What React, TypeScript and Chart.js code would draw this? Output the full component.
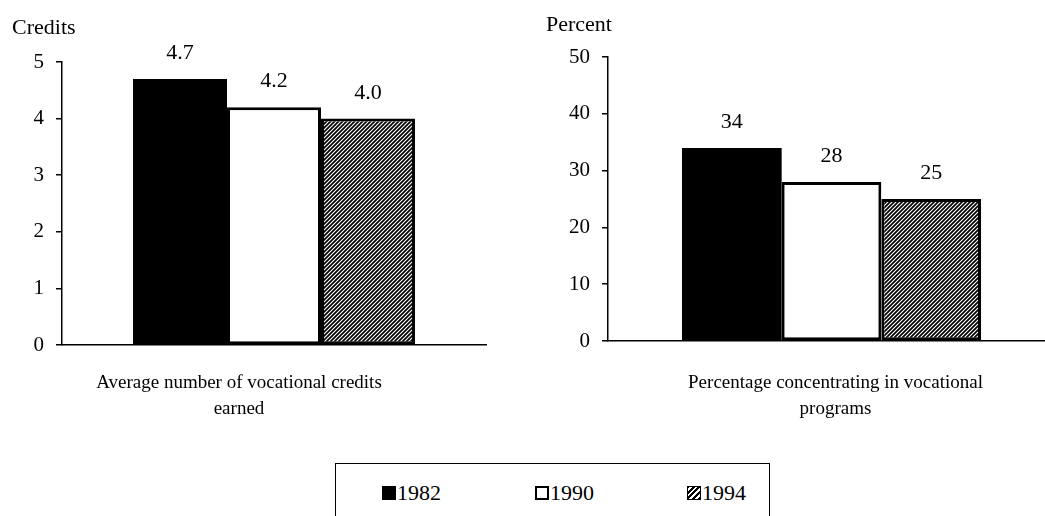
import React, { useEffect, useRef } from 'react';
import { Chart, registerables } from 'chart.js';

Chart.register(...registerables);

const FONT = "'Liberation Serif', 'Times New Roman', serif";

const years = ['1982', '1990', '1994'];
const creditsValues = [4.7, 4.2, 4.0];
const percentValues = [34, 28, 25];
const creditsAxis = { min: 0, max: 5, step: 1 };
const percentAxis = { min: 0, max: 50, step: 10 };
const creditsUnit = 'Credits';
const percentUnit = 'Percent';
const creditsCaption = ['Average number of vocational credits', 'earned'];
const percentCaption = ['Percentage concentrating in vocational', 'programs'];

function makeHatch(): CanvasPattern | string {
  const s = 4;
  const c = document.createElement('canvas');
  c.width = s;
  c.height = s;
  const g = c.getContext('2d');
  if (!g) return '#666';
  g.fillStyle = '#fff';
  g.fillRect(0, 0, s, s);
  g.strokeStyle = '#000';
  g.lineWidth = 1.7;
  g.beginPath();
  g.moveTo(0, s);
  g.lineTo(s, 0);
  g.moveTo(-1, 1);
  g.lineTo(1, -1);
  g.moveTo(s - 1, s + 1);
  g.lineTo(s + 1, s - 1);
  g.stroke();
  return g.createPattern(c, 'repeat') || '#666';
}

type Panel = {
  values: number[];
  axis: { min: number; max: number; step: number };
  decimals: number;
  unit: string;
  unitX: number;
  unitY: number;
  caption: string[];
  captionShift: number;
  captionY: number;
  padTop: number;
  padRight: number;
  yWidth: number;
  xHeight: number;
  catPct: number;
};

function buildChart(canvas: HTMLCanvasElement, p: Panel) {
  const fills = ['#000', '#fff', makeHatch()];
  const borders = [0, 3, 3];
  return new Chart(canvas, {
    type: 'bar',
    data: {
      labels: [''],
      datasets: years.map((y, i) => ({
        label: y,
        data: [p.values[i]],
        backgroundColor: fills[i] as any,
        borderColor: '#000',
        borderWidth: borders[i],
        borderSkipped: false,
        barPercentage: 1,
        categoryPercentage: p.catPct,
      })),
    },
    options: {
      responsive: false,
      animation: false,
      events: [],
      layout: {
        autoPadding: false,
        padding: { top: p.padTop, right: p.padRight, left: 0, bottom: 0 },
      },
      plugins: {
        legend: { display: false },
        title: { display: false },
        tooltip: { enabled: false },
      },
      scales: {
        x: {
          type: 'category',
          grid: { display: false },
          ticks: { display: false },
          border: { display: true, color: '#000', width: 1.5 },
          afterFit: (s: any) => {
            s.height = p.xHeight;
          },
        },
        y: {
          type: 'linear',
          min: p.axis.min,
          max: p.axis.max,
          ticks: {
            stepSize: p.axis.step,
            color: '#000',
            font: { family: FONT, size: 21 },
            padding: 12,
          },
          grid: {
            drawOnChartArea: false,
            drawTicks: true,
            tickLength: 6,
            color: '#000',
            lineWidth: 1.5,
          },
          border: { display: true, color: '#000', width: 1.5 },
          afterFit: (s: any) => {
            s.width = p.yWidth;
          },
        },
      },
    },
    plugins: [
      {
        id: 'extras',
        afterDraw(chart: any) {
          const { ctx, chartArea } = chart;
          ctx.save();
          ctx.fillStyle = '#000';
          ctx.textBaseline = 'alphabetic';
          ctx.textAlign = 'center';
          ctx.font = `22px ${FONT}`;
          chart.data.datasets.forEach((ds: any, i: number) => {
            const meta = chart.getDatasetMeta(i);
            meta.data.forEach((el: any, j: number) => {
              const v = ds.data[j] as number;
              ctx.fillText(v.toFixed(p.decimals), el.x, el.y - 20);
            });
          });
          ctx.font = `19px ${FONT}`;
          const cx = (chartArea.left + chartArea.right) / 2 + p.captionShift;
          p.caption.forEach((line, k) => {
            ctx.fillText(line, cx, p.captionY + k * 26);
          });
          ctx.textAlign = 'left';
          ctx.font = `22px ${FONT}`;
          ctx.fillText(p.unit, p.unitX, p.unitY);
          ctx.restore();
        },
      },
    ],
  } as any);
}

const swatchBase: React.CSSProperties = {
  position: 'absolute',
  top: 486,
  width: 14,
  height: 14,
  boxSizing: 'border-box',
};

const legendText: React.CSSProperties = {
  position: 'absolute',
  top: 482,
  fontFamily: FONT,
  fontSize: 22,
  lineHeight: '22px',
  color: '#000',
  whiteSpace: 'nowrap',
};

export default function App() {
  const leftRef = useRef<HTMLCanvasElement>(null);
  const rightRef = useRef<HTMLCanvasElement>(null);

  useEffect(() => {
    const charts: Chart[] = [];
    if (leftRef.current) {
      charts.push(
        buildChart(leftRef.current, {
          values: creditsValues,
          axis: creditsAxis,
          decimals: 1,
          unit: creditsUnit,
          unitX: 12,
          unitY: 34,
          caption: creditsCaption,
          captionShift: -35,
          captionY: 388,
          padTop: 62,
          padRight: 14,
          yWidth: 62,
          xHeight: 95,
          catPct: 0.665,
        })
      );
    }
    if (rightRef.current) {
      charts.push(
        buildChart(rightRef.current, {
          values: percentValues,
          axis: percentAxis,
          decimals: 0,
          unit: percentUnit,
          unitX: 26,
          unitY: 31,
          caption: percentCaption,
          captionShift: 4,
          captionY: 388,
          padTop: 57,
          padRight: 10,
          yWidth: 88,
          xHeight: 99,
          catPct: 0.669,
        })
      );
    }
    return () => charts.forEach((c) => c.destroy());
  }, []);

  const legendItems = [
    { x: 382, text: years[0], style: { background: '#000' } },
    { x: 535, text: years[1], style: { background: '#fff', border: '2.5px solid #000' } },
    {
      x: 687,
      text: years[2],
      style: {
        border: '1.5px solid #000',
        background: 'repeating-linear-gradient(-45deg, #000 0px, #000 2px, #fff 2px, #fff 4px)',
      },
    },
  ];

  return (
    <div
      style={{
        position: 'fixed',
        left: 0,
        top: 0,
        width: 1045,
        height: 516,
        overflow: 'hidden',
        background: '#fff',
      }}
    >
      <canvas ref={leftRef} width={500} height={440} style={{ position: 'absolute', left: 0, top: 0 }} />
      <canvas ref={rightRef} width={545} height={440} style={{ position: 'absolute', left: 520, top: 0 }} />
      <div
        style={{
          position: 'absolute',
          left: 335,
          top: 463,
          width: 435,
          height: 80,
          border: '1.5px solid #000',
          borderBottom: 'none',
          boxSizing: 'border-box',
        }}
      />
      {legendItems.map((it) => (
        <React.Fragment key={it.text}>
          <div style={{ ...swatchBase, left: it.x, ...it.style }} />
          <div style={{ ...legendText, left: it.x + 15 }}>{it.text}</div>
        </React.Fragment>
      ))}
    </div>
  );
}
